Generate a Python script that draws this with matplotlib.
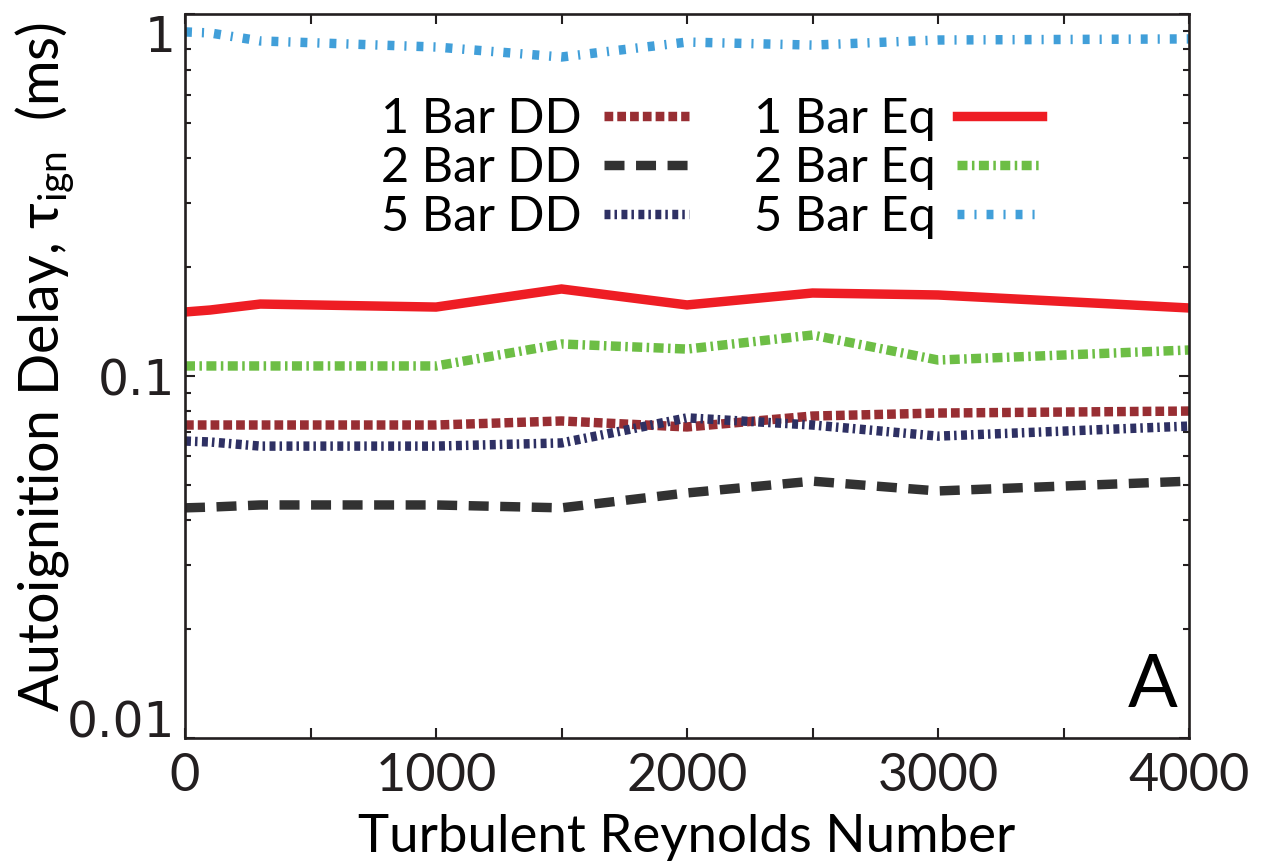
import matplotlib
matplotlib.use('Agg')
import matplotlib.pyplot as plt
from matplotlib.ticker import FixedLocator, FixedFormatter, MultipleLocator, NullFormatter, LogLocator

# ---------------- data ----------------
re_num = [0, 100, 300, 1000, 1500, 2000, 2500, 3000, 4000]

bar1_dd = [0.0732, 0.0732, 0.0732, 0.0732, 0.0751, 0.0723, 0.0775, 0.0790, 0.0800]
bar2_dd = [0.0432, 0.0434, 0.0440, 0.0440, 0.0432, 0.0475, 0.0512, 0.0481, 0.0512]
bar5_dd = [0.0661, 0.0657, 0.0640, 0.0640, 0.0653, 0.0766, 0.0732, 0.0682, 0.0727]
bar1_eq = [0.1503, 0.1522, 0.1581, 0.1551, 0.1740, 0.1572, 0.1696, 0.1675, 0.1542]
bar2_eq = [0.1066, 0.1066, 0.1066, 0.1066, 0.1226, 0.1187, 0.1298, 0.1107, 0.1180]
bar5_eq = [0.894, 0.888, 0.844, 0.812, 0.762, 0.838, 0.822, 0.849, 0.855]

series_labels = ['1 Bar DD', '2 Bar DD', '5 Bar DD', '1 Bar Eq', '2 Bar Eq', '5 Bar Eq']

x_ticks = [0, 1000, 2000, 3000, 4000]
x_tick_labels = ['0', '1000', '2000', '3000', '4000']
y_ticks = [0.01, 0.1, 1]
y_tick_labels = ['0.01', '0.1', '1']

x_label = 'Turbulent Reynolds Number'
y_label = r'Autoignition Delay, τ$_{\mathregular{ign}}$  (ms)'
panel_label = 'A'

# ---------------- style ----------------
plt.rcParams['font.family'] = ['Lato', 'DejaVu Sans']
plt.rcParams['mathtext.default'] = 'regular'
plt.rcParams['lines.scale_dashes'] = False

W, H = 1268, 867
fig = plt.figure(figsize=(W / 100, H / 100), dpi=100)
ax = fig.add_axes([185 / W, 1 - 737.7 / H, 1004 / W, 723.4 / H])

LW = 6.8
c_maroon = '#982E33'
c_black = '#323232'
c_navy = '#2E3063'
c_red = '#EE1D24'
c_green = '#6DBE45'
c_blue = '#419FD9'

l1dd, = ax.plot(re_num, bar1_dd, color=c_maroon, lw=LW, dashes=(6.3, 2.9))
l2dd, = ax.plot(re_num, bar2_dd, color=c_black, lw=LW, dashes=(14.4, 8.3))
l5dd, = ax.plot(re_num, bar5_dd, color=c_navy, lw=LW, dashes=(4.3, 2.9, 1.8, 3.2))
l1eq, = ax.plot(re_num, bar1_eq, color=c_red, lw=LW, solid_joinstyle='miter')
l2eq, = ax.plot(re_num, bar2_eq, color=c_green, lw=LW, dashes=(7.2, 3.2, 1.8, 3.2))
l5eq, = ax.plot(re_num, bar5_eq, color=c_blue, lw=LW, dashes=(5.0, 7.2, 1.5, 7.2))

ax.set_yscale('log')
ax.set_xlim(0, 4000)
ax.set_ylim(0.01, 1)

ax.xaxis.set_major_locator(FixedLocator(x_ticks))
ax.xaxis.set_major_formatter(FixedFormatter(x_tick_labels))
ax.xaxis.set_minor_locator(MultipleLocator(500))
ax.xaxis.set_minor_formatter(NullFormatter())
ax.yaxis.set_major_locator(FixedLocator(y_ticks))
ax.yaxis.set_major_formatter(FixedFormatter(y_tick_labels))
ax.yaxis.set_minor_locator(LogLocator(base=10, subs=[2, 3, 4, 5, 6, 7, 8, 9]))
ax.yaxis.set_minor_formatter(NullFormatter())

for s in ax.spines.values():
    s.set_linewidth(1.9)
    s.set_color('#231F20')

ax.tick_params(axis='both', which='both', direction='in', top=True, right=True,
               width=1.5, color='#231F20')
ax.tick_params(axis='x', which='both', length=7.2, pad=11, labelsize=37.5)
ax.tick_params(axis='y', which='major', length=7.5, pad=7, labelsize=35)
ax.tick_params(axis='y', which='minor', length=4.0)

for lab in ax.get_yticklabels():
    lab.set_family('DejaVu Sans')
    lab.set_color('#231F20')
for lab in ax.get_xticklabels():
    lab.set_color('#231F20')

yt = ax.yaxis.get_major_ticks()
yt[0].label1.set_verticalalignment('baseline')
yt[1].label1.set_verticalalignment('center_baseline')
yt[2].label1.set_verticalalignment('top')

ax.set_xlabel(x_label, fontsize=38, labelpad=10)
ax.set_ylabel(y_label, fontsize=40)
ax.yaxis.set_label_coords(-0.108, 0.513)

ax.text(0.939, 0.043, panel_label, transform=ax.transAxes, fontsize=53,
        ha='left', va='baseline')

leg = ax.legend([l1dd, l2dd, l5dd, l1eq, l2eq, l5eq], series_labels, ncol=2,
                frameon=False, markerfirst=False, loc='upper left',
                bbox_to_anchor=(381 / W, 1 - 97 / H), bbox_transform=fig.transFigure,
                borderpad=0, borderaxespad=0, handlelength=1.75, handletextpad=0.45,
                columnspacing=1.34, labelspacing=0.1, fontsize=35)

fig.savefig('out.png', dpi=100)
